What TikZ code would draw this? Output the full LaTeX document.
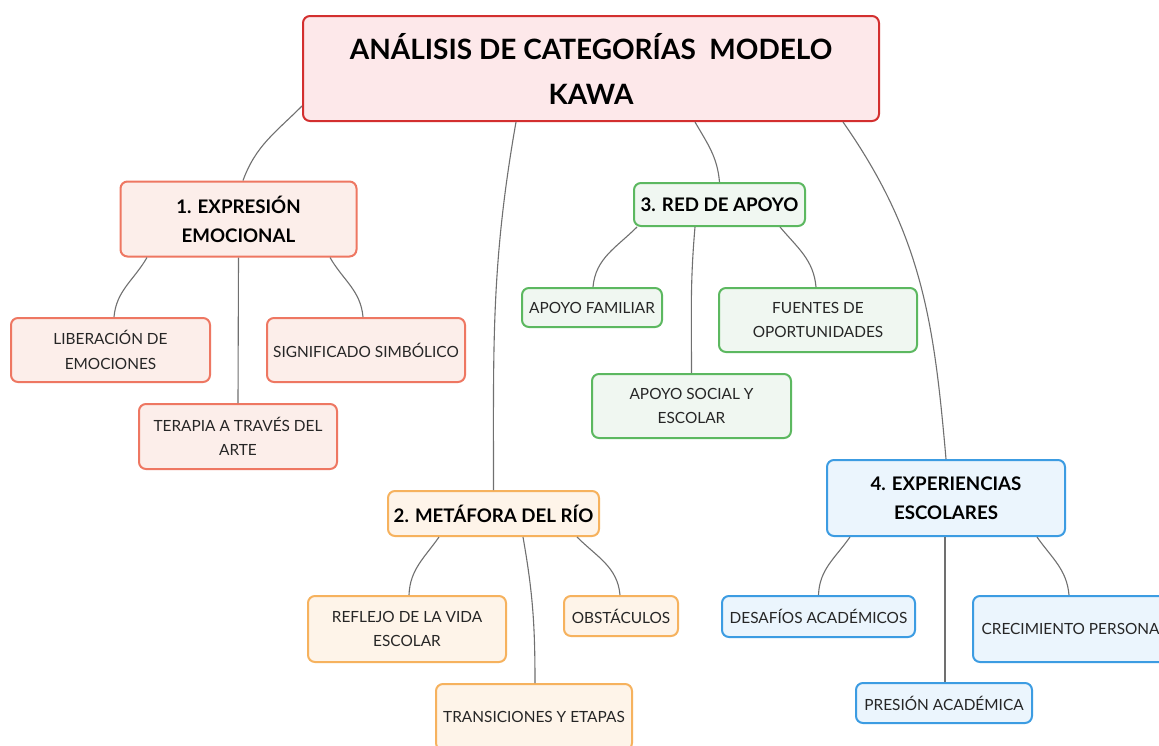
\documentclass[tikz,border=0pt]{standalone}
\usepackage{fontspec}
\setmainfont{Lato}
\usepackage{xcolor}

\definecolor{rootline}{HTML}{D32F2F}
\definecolor{rootfill}{HTML}{FDE8EA}
\definecolor{emoline}{HTML}{EE7762}
\definecolor{emofill}{HTML}{FCEEEA}
\definecolor{rioline}{HTML}{F6B25E}
\definecolor{riofill}{HTML}{FEF4E9}
\definecolor{redline}{HTML}{5CB860}
\definecolor{redfill}{HTML}{F0F7F1}
\definecolor{escline}{HTML}{3C9CE2}
\definecolor{escfill}{HTML}{EBF5FD}
\definecolor{linkgray}{HTML}{707070}

\tikzset{
	box/.style={draw, rounded corners=7pt, line width=2pt, align=center, inner sep=0pt, text=black!85},
	rootbox/.style={box, draw=rootline, fill=rootfill, text=black, font=\bfseries\fontsize{28}{45}\selectfont},
	head/.style={box, text=black, font=\bfseries\fontsize{18.7}{29}\selectfont},
	leaf/.style={box, font=\fontsize{15.4}{24.5}\selectfont},
	emo/.style={draw=emoline, fill=emofill},
	rio/.style={draw=rioline, fill=riofill},
	red/.style={draw=redline, fill=redfill},
	esc/.style={draw=escline, fill=escfill},
	link/.style={draw=linkgray, line width=1.1pt},
}

\begin{document}
\begin{tikzpicture}[x=1pt, y=1pt]
	\useasboundingbox (0,0) rectangle (1159,-745);
	\clip (0,0) rectangle (1159,-745);
	\fill[white] (0,0) rectangle (1159,-745);

	% root
	\node[rootbox, minimum width=576pt, minimum height=105pt] (root) at (591,-68.5) {ANÁLISIS DE CATEGORÍAS\ \ MODELO\\KAWA};

	% 1. expresion emocional
	\node[head, emo, minimum width=236pt, minimum height=75pt] (emo) at (238.5,-219) {1. EXPRESIÓN\\EMOCIONAL};
	\node[leaf, emo, minimum width=199pt, minimum height=64pt] (liber) at (110.5,-350) {LIBERACIÓN DE\\EMOCIONES};
	\node[leaf, emo, minimum width=198pt, minimum height=64pt] (signif) at (366,-350) {SIGNIFICADO SIMBÓLICO};
	\node[leaf, emo, minimum width=198pt, minimum height=65pt] (terapia) at (238,-436.5) {TERAPIA A TRAVÉS DEL\\ARTE};

	% 2. metafora del rio
	\node[head, rio, minimum width=211pt, minimum height=45pt] (rio) at (493.5,-513.5) {2. METÁFORA DEL RÍO};
	\node[leaf, rio, minimum width=198pt, minimum height=66pt] (reflejo) at (407,-629) {REFLEJO DE LA VIDA\\ESCOLAR};
	\node[leaf, rio, minimum width=114pt, minimum height=40pt] (obst) at (621,-616) {OBSTÁCULOS};
	\node[leaf, rio, minimum width=196pt, minimum height=66pt] (trans) at (534,-717) {TRANSICIONES Y ETAPAS};

	% 3. red de apoyo
	\node[head, red, minimum width=171pt, minimum height=43pt] (red) at (719.5,-204.5) {3. RED DE APOYO};
	\node[leaf, red, minimum width=140pt, minimum height=39pt] (famil) at (592,-307.5) {APOYO FAMILIAR};
	\node[leaf, red, minimum width=198pt, minimum height=64pt] (fuentes) at (818,-320) {FUENTES DE\\OPORTUNIDADES};
	\node[leaf, red, minimum width=199pt, minimum height=64pt] (social) at (691.5,-406) {APOYO SOCIAL Y\\ESCOLAR};

	% 4. experiencias escolares
	\node[head, esc, minimum width=238pt, minimum height=76pt] (esc) at (946,-498) {4. EXPERIENCIAS\\ESCOLARES};
	\node[leaf, esc, minimum width=193pt, minimum height=41pt] (desaf) at (818.5,-616.5) {DESAFÍOS ACADÉMICOS};
	\node[leaf, esc, minimum width=203pt, minimum height=66pt] (crec) at (1074.5,-629) {CRECIMIENTO PERSONAL};
	\node[leaf, esc, minimum width=176pt, minimum height=40pt] (presion) at (944,-703) {PRESIÓN ACADÉMICA};

	% links from the root
	\draw[link] ([yshift=16pt]root.south west) to[out=225, in=70] ([xshift=4.5pt]emo.north);
	\draw[link] ([xshift=-75pt]root.south) to[out=-100, in=90] (rio.north);
	\draw[link] ([xshift=104pt]root.south) to[out=-60, in=95] (red.north);
	\draw[link] ([xshift=252pt]root.south) to[out=-55, in=95] (esc.north);

	% links inside the groups
	\draw[link] ([xshift=-91.5pt]emo.south) to[out=-120, in=85] ([xshift=3.5pt]liber.north);
	\draw[link] (emo.south) -- (terapia.north);
	\draw[link] ([xshift=91.5pt]emo.south) to[out=-60, in=95] ([xshift=-3pt]signif.north);

	\draw[link] ([xshift=-54.5pt]rio.south) to[out=-125, in=88] ([xshift=2pt]reflejo.north);
	\draw[link] ([xshift=29.5pt]rio.south) to[out=-80, in=90] ([xshift=1pt]trans.north);
	\draw[link] ([xshift=83.5pt]rio.south) to[out=-45, in=95] ([xshift=-1pt]obst.north);

	\draw[link] ([xshift=-82.5pt]red.south) to[out=-135, in=85] ([xshift=1pt]famil.north);
	\draw[link] ([xshift=-24.5pt]red.south) to[out=-95, in=90] (social.north);
	\draw[link] ([xshift=60.5pt]red.south) to[out=-50, in=95] ([xshift=-2pt]fuentes.north);

	\draw[link] ([xshift=-96pt]esc.south) to[out=-125, in=88] (desaf.north);
	\draw[link] ([xshift=-1pt]esc.south) -- ([xshift=1pt]presion.north);
	\draw[link] ([xshift=91pt]esc.south) to[out=-55, in=95] ([xshift=-5.5pt]crec.north);
\end{tikzpicture}
\end{document}
